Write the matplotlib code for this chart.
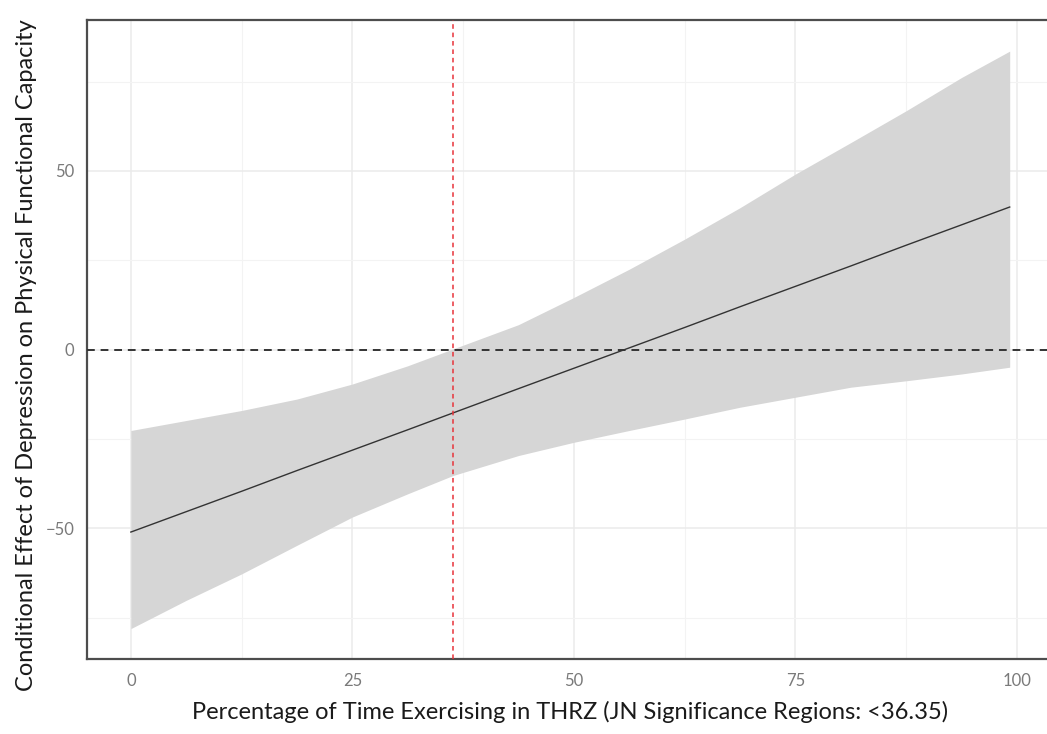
import numpy as np
import matplotlib
matplotlib.use('Agg')
from matplotlib import pyplot as plt
from matplotlib.ticker import MultipleLocator

# Data (percentage of time in THRZ vs conditional effect)
x_vals = [0, 6.25, 12.5, 18.75, 25, 31.25, 36.35, 43.75, 50, 56.25,
          62.5, 68.75, 75, 81.25, 87.5, 93.75, 99.2]
effect = [-51.0, -45.3, -39.6, -33.8, -28.1, -22.4, -17.7, -10.9, -5.2, 0.5,
          6.2, 12.0, 17.7, 23.4, 29.2, 34.9, 39.9]
ci_upper = [-22.6, -19.8, -17.0, -13.8, -9.6, -4.5, 0.2, 7.0, 14.6, 22.5,
            30.9, 39.7, 49.1, 57.9, 66.8, 76.1, 83.5]
ci_lower = [-78.0, -70.1, -62.7, -54.7, -46.8, -40.3, -35.2, -29.6, -25.9, -22.6,
            -19.4, -16.1, -13.3, -10.5, -8.7, -6.8, -4.9]
jn_point = 36.35

x_ticks = [0, 25, 50, 75, 100]
y_ticks = [-50, 0, 50]

plt.rcParams['font.family'] = ['Lato', 'DejaVu Sans']

fig = plt.figure(figsize=(10.47, 7.34), dpi=100)
ax = fig.add_axes([87 / 1047, 1 - 659 / 734, (1054 - 87) / 1047, (659 - 20) / 734])

# confidence band + conditional effect line
ax.fill_between(x_vals, ci_lower, ci_upper, color='#d6d6d6', linewidth=0, zorder=2)
ax.plot(x_vals, effect, color='#333333', lw=1.0, zorder=3)

# reference lines
ax.axhline(0, color='#333333', lw=1.4, ls=(0, (4, 3)), zorder=4)
ax.axvline(jn_point, color='#e8333a', lw=1.1, ls=(0, (3, 2.5)), zorder=4)

ax.set_xlim(-4.95, 104.2)
ax.set_ylim(-86.5, 92.2)

ax.set_xticks(x_ticks)
ax.set_yticks(y_ticks)
ax.xaxis.set_minor_locator(MultipleLocator(12.5))
ax.yaxis.set_minor_locator(MultipleLocator(25))
ax.grid(which='major', color='#ebebeb', lw=1.1, zorder=0)
ax.grid(which='minor', color='#f3f3f3', lw=0.8, zorder=0)
ax.set_axisbelow(True)

ax.tick_params(which='both', length=0)
ax.tick_params(axis='x', pad=10, labelsize=12, labelcolor='#7a7a7a')
ax.tick_params(axis='y', pad=9, labelsize=12, labelcolor='#7a7a7a')

for side in ['left', 'top', 'bottom']:
    ax.spines[side].set_color('#4d4d4d')
    ax.spines[side].set_linewidth(1.6)
ax.spines['right'].set_visible(False)

ax.set_xlabel('Percentage of Time Exercising in THRZ (JN Significance Regions: <36.35)',
              fontsize=17, color='#1a1a1a', labelpad=9)
ax.set_ylabel('Conditional Effect of Depression on Physical Functional Capacity',
              fontsize=17, color='#1a1a1a')
ax.yaxis.set_label_coords(-0.052, 0.476)

plt.savefig('out.png', dpi=100)
